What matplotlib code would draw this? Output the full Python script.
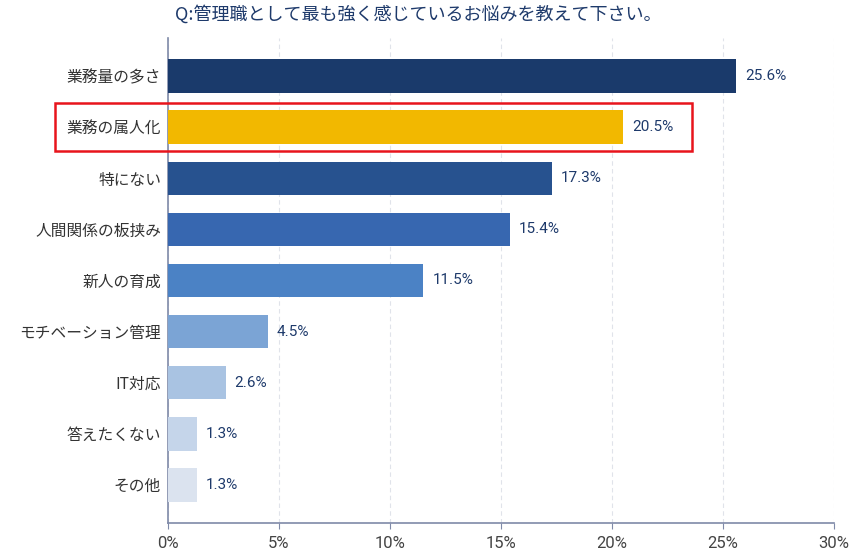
import matplotlib
matplotlib.use("Agg")
import matplotlib.pyplot as plt
from matplotlib.patches import Rectangle
import matplotlib.transforms as mtransforms

plt.rcParams['font.family'] = ['Noto Sans CJK JP', 'DejaVu Sans']
LATIN = ['Roboto', 'Noto Sans CJK JP']

title = "Q:管理職として最も強く感じているお悩みを教えて下さい。"
categories = ["業務量の多さ", "業務の属人化", "特にない", "人間関係の板挟み", "新人の育成",
              "モチベーション管理", "IT対応", "答えたくない", "その他"]
values = [25.6, 20.5, 17.3, 15.4, 11.5, 4.5, 2.6, 1.3, 1.3]
colors = ["#1a3a6b", "#f2b800", "#27528f", "#3767b0", "#4b82c5",
          "#7ba4d5", "#a9c3e2", "#c5d5ea", "#dbe3ef"]
xticks = [0, 5, 10, 15, 20, 25, 30]
highlight_index = 1

fig = plt.figure(figsize=(8.67, 5.59), dpi=100)
ax = fig.add_axes([168/867, 1-523/559, (834-168)/867, (523-38)/559])

ypos = list(range(len(categories)))
ax.barh(ypos, values, height=0.66, color=colors, zorder=3)
for y, v in zip(ypos, values):
    ax.annotate(f"{v}%", xy=(v, y), xytext=(6.5, 0), textcoords="offset points",
                va="center", ha="left", fontsize=11, color="#1e3a6b", family=LATIN)

ax.set_xlim(0, 30)
ax.set_ylim(len(categories) - 0.25, -0.75)
ax.set_xticks(xticks)
ax.set_xticklabels([f"{t}%" for t in xticks], fontsize=12, color="#444444", family=LATIN)
ax.set_yticks(ypos)
ax.set_yticklabels(categories, fontsize=11.3, color="#333333")
ax.tick_params(axis='y', length=0, pad=5)
ax.tick_params(axis='x', length=4, color="#7f8aa8", pad=5)
ax.grid(axis='x', linestyle=(0, (4, 3)), color="#e0e3ea", linewidth=0.8, zorder=0)
for s in ["top", "right"]:
    ax.spines[s].set_visible(False)
ax.spines["left"].set_color("#7f8aa8")
ax.spines["bottom"].set_color("#7f8aa8")
ax.spines["left"].set_linewidth(1.2)
ax.spines["bottom"].set_linewidth(1.2)

fig.text(418/867, 1-14/559, title, ha="center", va="center", fontsize=13, color="#1e3a6b")

trans = mtransforms.blended_transform_factory(fig.transFigure, ax.transData)
rect = Rectangle((55/867, highlight_index + 0.47), (692-55)/867, -0.94,
                 transform=trans, fill=False, edgecolor="#e8141c", linewidth=1.8,
                 clip_on=False, zorder=5)
fig.add_artist(rect)

fig.savefig("out.png", dpi=100)
